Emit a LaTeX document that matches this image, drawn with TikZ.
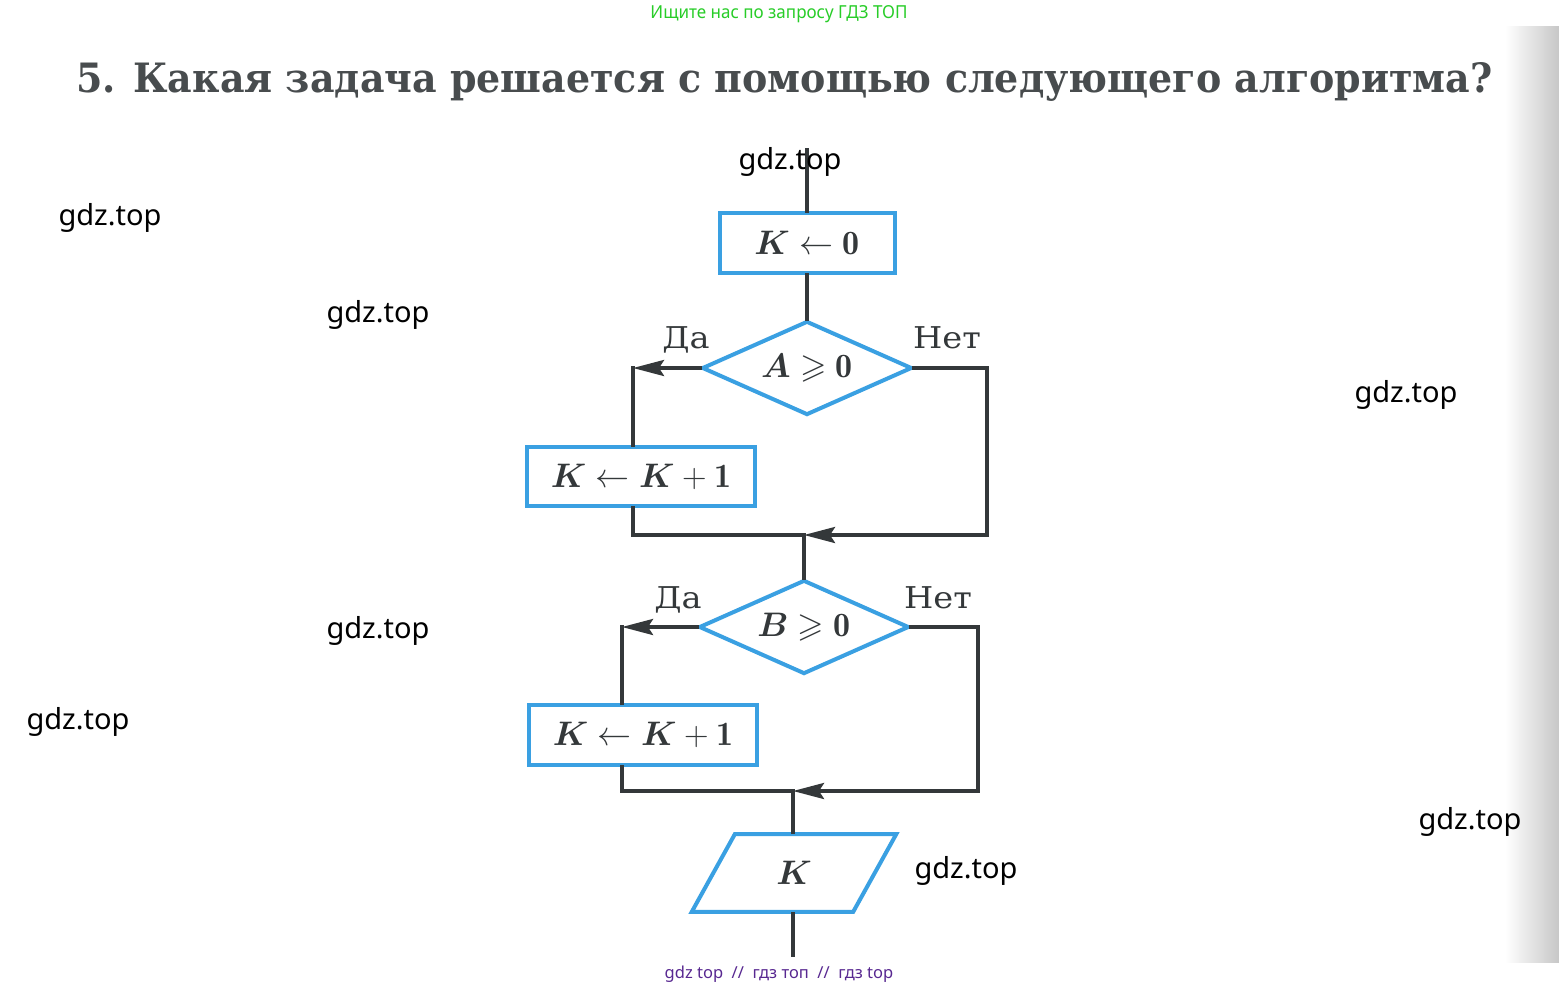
\documentclass[tikz,border=0pt]{standalone}
\usepackage{graphicx}
\usepackage{fontspec}
\usepackage{amssymb,bm}
\usetikzlibrary{shapes.geometric,arrows.meta}
\newfontfamily\wmfont{Noto Sans}
\newfontfamily\serifru{DejaVu Serif}
\definecolor{boxblue}{RGB}{58,160,226}
\definecolor{linegray}{RGB}{52,56,58}
\definecolor{wmgreen}{RGB}{40,205,40}
\definecolor{wmpurple}{RGB}{88,40,145}
\newcommand{\flowmath}[1]{\scalebox{1.64}{\fontsize{20.74}{25}\selectfont$#1$}}
\newcommand{\branchtext}[1]{\scalebox{1.12}[1]{\serifru\fontsize{30}{34}\selectfont #1}}
\begin{document}
\begin{tikzpicture}[x=1pt,y=-1pt,
  blk/.style={draw=boxblue,line width=4pt,rectangle,inner sep=0pt,text=linegray},
  cond/.style={draw=boxblue,line width=4pt,diamond,aspect=2.2,inner sep=0pt,minimum width=210pt,minimum height=94pt,text=linegray},
  io/.style={draw=boxblue,line width=4pt,trapezium,trapezium left angle=61,trapezium right angle=119,inner sep=0pt,minimum width=205pt,minimum height=69pt,text=linegray},
  flow/.style={draw=linegray,line width=3.5pt,line cap=rect},
  arr/.style={flow,-{Stealth[length=31pt,width=16pt,inset=5pt]}},
  lbl/.style={text=linegray,anchor=base,inner sep=0pt},
  wm/.style={font=\wmfont\fontsize{29}{34}\selectfont,text=black,inner sep=0pt},
]
\fill[white] (0,0) rectangle (1559,989);
\useasboundingbox (0,0) rectangle (1559,989);
\shade[left color=white,right color=black!22] (1505,26) rectangle (1559,962);

% header and title
\node[anchor=base,inner sep=0pt,text=wmgreen] (hdr) at (779,18)
  {\resizebox{257pt}{13pt}{\wmfont Ищите нас по запросу ГДЗ ТОП}};
\node[anchor=base west,inner sep=0pt,text=linegray!90] (title) at (76,92)
  {\resizebox{1416pt}{30pt}{\serifru\bfseries 5. Какая задача решается с помощью следующего алгоритма?}};

% flowchart nodes
\node[blk,minimum width=175pt,minimum height=60pt] (init) at (807,243) {\flowmath{\bm{K}\leftarrow\mathbf{0}}};
\node[cond] (c1) at (807,368) {\flowmath{\bm{A}\geqslant\mathbf{0}}};
\node[blk,minimum width=228pt,minimum height=59pt] (inc1) at (641,476.5) {\flowmath{\bm{K}\leftarrow\bm{K}+\mathbf{1}}};
\node[cond] (c2) at (804,627) {\flowmath{\bm{B}\geqslant\mathbf{0}}};
\node[blk,minimum width=228pt,minimum height=60pt] (inc2) at (643,735) {\flowmath{\bm{K}\leftarrow\bm{K}+\mathbf{1}}};
\node[io] (out) at (794,873) {\flowmath{\bm{K}}};

\coordinate (top) at (807,150);
\coordinate (y1) at (633,368);
\coordinate (n1) at (987,368);
\coordinate (m1) at (804,535);
\coordinate (y2) at (622,627);
\coordinate (n2) at (978,627);
\coordinate (m2) at (793,791);
\coordinate (bot) at (793,955);

% connectors
\draw[flow] (top) -- (init.north);
\draw[flow] (init.south) -- (c1.north);
\draw[arr] (c1.west) -- (y1);
\draw[flow] (y1) -- (y1 |- inc1.north);
\draw[flow] (y1 |- inc1.south) -- (y1 |- m1) -- (m1);
\draw[arr] (c1.east) -- (n1) -- (n1 |- m1) -- (m1);
\draw[flow] (m1) -- (c2.north);
\draw[arr] (c2.west) -- (y2);
\draw[flow] (y2) -- (y2 |- inc2.north);
\draw[flow] (y2 |- inc2.south) -- (y2 |- m2) -- (m2);
\draw[arr] (c2.east) -- (n2) -- (n2 |- m2) -- (m2);
\draw[flow] (m2 |- out.north) -- (m2);
\draw[flow] (m2 |- out.south) -- (bot);

% branch labels
\node[lbl] (da1) at (686,348) {\branchtext{Да}};
\node[lbl] (net1) at (947,348) {\branchtext{Нет}};
\node[lbl] (da2) at (678,608) {\branchtext{Да}};
\node[lbl] (net2) at (938,608) {\branchtext{Нет}};

% watermarks
\node[wm] (w1) at (790,162) {gdz.top};
\node[wm] (w2) at (110,218) {gdz.top};
\node[wm] (w3) at (378,315) {gdz.top};
\node[wm] (w4) at (1406,395) {gdz.top};
\node[wm] (w5) at (378,631) {gdz.top};
\node[wm] (w6) at (78,722) {gdz.top};
\node[wm] (w7) at (1470,822) {gdz.top};
\node[wm] (w8) at (966,871) {gdz.top};
\node[inner sep=0pt,text=wmpurple,font=\wmfont\fontsize{16.5}{20}\selectfont] (ftr) at (779,974)
  {gdz top\ \ //\ \ гдз топ\ \ //\ \ гдз top};
\end{tikzpicture}
\end{document}
